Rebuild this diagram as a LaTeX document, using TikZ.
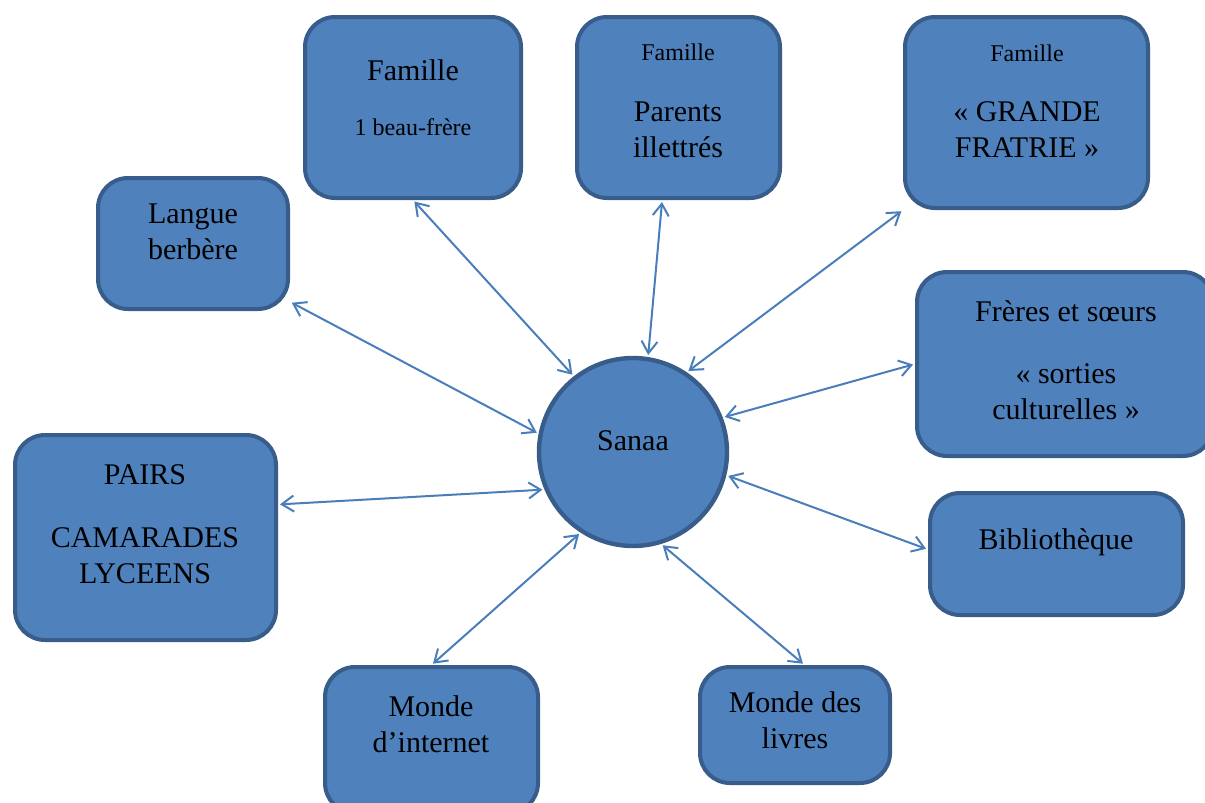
\documentclass[tikz,border=0pt]{standalone}
\usepackage{fontspec}
\setmainfont{Liberation Serif}
\usetikzlibrary{arrows.meta}
\definecolor{boxfill}{HTML}{4F81BD}
\definecolor{boxline}{HTML}{385D8A}
\definecolor{arrowc}{HTML}{4A7EBB}
\tikzset{
  bx/.style={draw=boxline, fill=boxfill, line width=2pt, rounded corners=15pt, rectangle, inner sep=0pt},
  circ/.style={draw=boxline, fill=boxfill, line width=2.2pt, circle, inner sep=0pt, minimum size=94pt},
  big/.style={font=\fontsize{15}{18}\selectfont, align=center, inner sep=0pt},
  small/.style={font=\fontsize{12}{14}\selectfont, align=center, inner sep=0pt},
  link/.style={draw=arrowc, line width=1pt, {Straight Barb[length=6pt,width=8pt,line width=1pt]}-{Straight Barb[length=6pt,width=8pt,line width=1pt]}, shorten <=1pt, shorten >=1pt}
}
\begin{document}
\begin{tikzpicture}[x=0.5pt,y=-0.5pt]
\useasboundingbox (0,0) rectangle (1205,803);
% boxes
\node[bx, minimum width=108pt, minimum height=90.5pt] (fam1) at (413,107.5) {};
\node[bx, minimum width=101.5pt, minimum height=90.5pt] (par) at (678.5,107.5) {};
\node[bx, minimum width=121.5pt, minimum height=95.5pt] (gra) at (1026.5,112.5) {};
\node[bx, minimum width=95pt, minimum height=65.5pt] (lang) at (193,243.5) {};
\node[bx, minimum width=148pt, minimum height=92pt] (fre) at (1065,364) {};
\node[bx, minimum width=130.5pt, minimum height=102.5pt] (pairs) at (145.5,537.5) {};
\node[bx, minimum width=126.5pt, minimum height=61pt] (bib) at (1056.5,554) {};
\node[bx, minimum width=106.5pt, minimum height=73pt] (int) at (431.5,740) {};
\node[bx, minimum width=95pt, minimum height=58pt] (liv) at (795,725) {};
\node[circ] (sanaa) at (633,452) {};
% texts
\node[big] (t1a) at (413,70) {Famille};
\node[small] (t1b) at (413,127) {1 beau-frère};
\node[small] (t2a) at (678,52) {Famille};
\node[big] (t2b) at (678,130) {Parents\\illettrés};
\node[small] (t3a) at (1027,53) {Famille};
\node[big] (t3b) at (1027,130) {« GRANDE\\FRATRIE »};
\node[big] (t4) at (193,232) {Langue\\berbère};
\node[big] (t5a) at (1066,311) {Frères et sœurs};
\node[big] (t5b) at (1066,392) {« sorties\\culturelles »};
\node[big] (t6a) at (145,475) {PAIRS};
\node[big] (t6b) at (145,556) {CAMARADES\\LYCEENS};
\node[big] (t7) at (1056,542) {Bibliothèque};
\node[big] (t8) at (431,724) {Monde\\d’internet};
\node[big] (t9) at (795,720) {Monde des\\livres};
\node[big] (ts) at (633,441) {Sanaa};
% connectors
\draw[link] (fam1.south) -- (sanaa.128);
\draw[link] (par.260) -- (sanaa.81);
\draw[link] (gra.south west) -- (sanaa.56);
\draw[link] (lang.-31.5) -- (sanaa.169);
\draw[link] (fre.west) -- (sanaa.21);
\draw[link] (pairs.14) -- (sanaa.203);
\draw[link] (bib.178) -- (sanaa.-14);
\draw[link] (int.north) -- (sanaa.237);
\draw[link] (liv.81.5) -- (sanaa.287);
\end{tikzpicture}
\end{document}
